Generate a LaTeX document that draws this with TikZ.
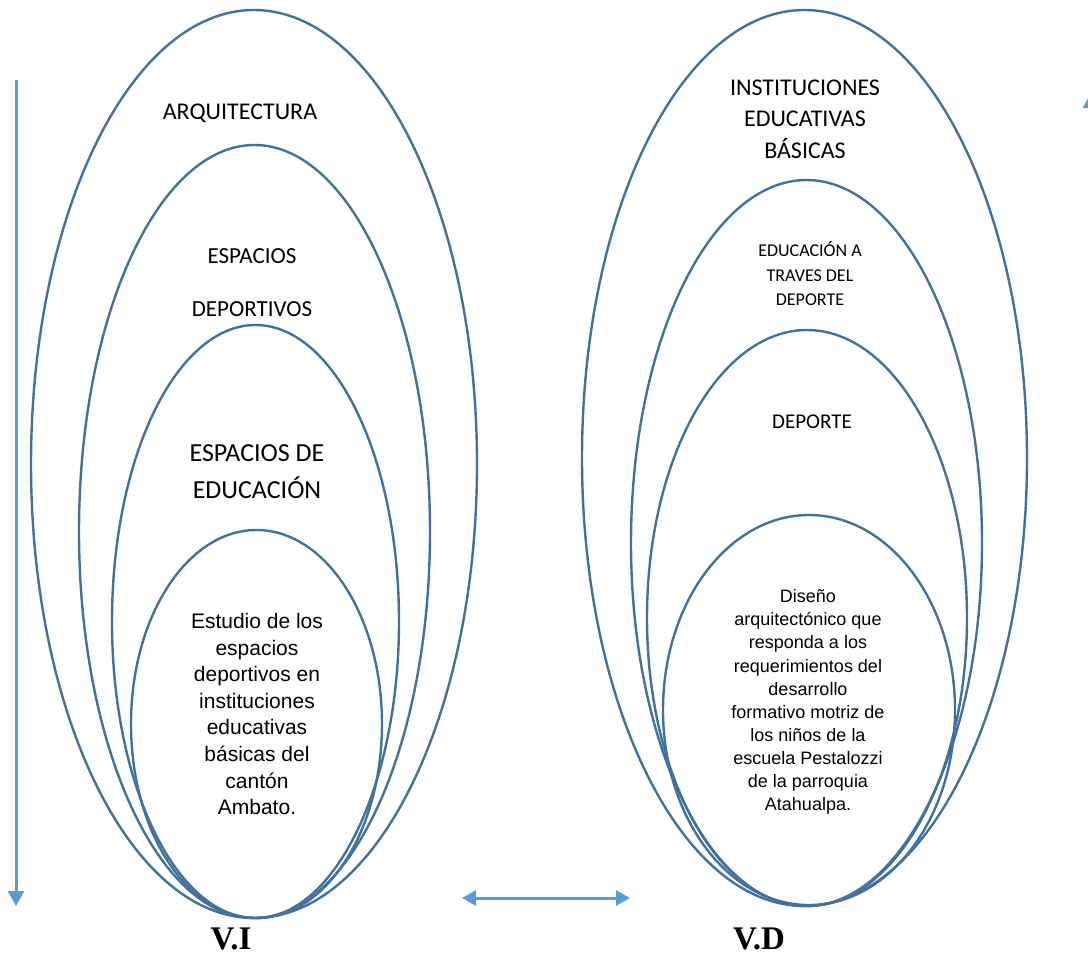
\documentclass[tikz,border=0pt]{standalone}
\usepackage{fontspec}
\usepackage{tikz}
\usetikzlibrary{arrows.meta}
\newfontfamily\calfont{Carlito}
\newfontfamily\arialfont{Liberation Sans}
\newfontfamily\serifbold{Liberation Serif}
\definecolor{ringblue}{HTML}{41719C}
\definecolor{arrowblue}{HTML}{5B9BD5}

\begin{document}
\begin{tikzpicture}[
  x=1pt,
  y=1pt,
  ring/.style={line width=2.4pt, draw=ringblue},
  flow/.style={line width=3pt, draw=arrowblue, -{Triangle[width=16pt, length=15pt]}},
  both/.style={line width=3pt, draw=arrowblue, {Triangle[width=15pt, length=14pt]}-{Triangle[width=15pt, length=14pt]}},
  caps/.style={font=\calfont\fontsize{23}{28}\selectfont, align=center, text=black},
  body/.style={font=\arialfont\fontsize{21}{26.6}\selectfont, align=center, text=black},
  tag/.style={font=\serifbold\bfseries\fontsize{33}{36}\selectfont, text=black}
]
  \useasboundingbox (0,0) rectangle (1088,-956);

  % nested rings, left and right
  \foreach \cx/\cy/\rx/\ry in {254/464/223/454, 254.5/531.5/175.5/386.5,
      255.5/621.5/143.5/296.5, 256.5/724/125.5/194,
      804.5/458/222.5/448, 806.5/543/175.5/363,
      807/618/160/288, 809/710/146/195}
    \draw[ring] (\cx,-\cy) ellipse [x radius=\rx, y radius=\ry];

  % left side labels
  \node[caps, font=\calfont\fontsize{24}{28}\selectfont] (arq) at (240,-113) {ARQUITECTURA};
  \node[caps, font=\calfont\fontsize{23}{53}\selectfont] (esp) at (252,-283)
    {ESPACIOS\\DEPORTIVOS};
  \node[caps, font=\calfont\fontsize{26}{37}\selectfont] (edu) at (257,-472)
    {ESPACIOS DE\\EDUCACIÓN};
  \node[body] (estudio) at (257,-714)
    {Estudio de los\\espacios\\deportivos en\\instituciones\\educativas\\básicas del\\cantón\\Ambato.};

  % right side labels
  \node[caps, font=\calfont\fontsize{24}{31.5}\selectfont] (inst) at (805,-119)
    {INSTITUCIONES\\EDUCATIVAS\\BÁSICAS};
  \node[caps, font=\calfont\fontsize{18}{24.5}\selectfont] (trav) at (810,-274)
    {EDUCACIÓN A\\TRAVES DEL\\DEPORTE};
  \node[caps, font=\calfont\fontsize{21}{26}\selectfont] (dep) at (812,-422) {DEPORTE};
  \node[body, font=\arialfont\fontsize{18}{23.1}\selectfont] (diseno) at (808,-702)
    {Diseño\\arquitectónico que\\responda a los\\requerimientos del\\desarrollo\\formativo motriz de\\los niños de la\\escuela Pestalozzi\\de la parroquia\\Atahualpa.};

  % variable tags
  \node[tag] (vi) at (231,-939) {V.I};
  \node[tag] (vd) at (759,-939) {V.D};

  % arrows
  \coordinate (downtop) at (16,-80);
  \coordinate (downend) at (16,-906);
  \coordinate (uptail) at (1091,-905);
  \coordinate (uphead) at (1091,-93);
  \coordinate (linkl) at (462,-898);
  \coordinate (linkr) at (630,-898);
  \draw[flow] (downtop) -- (downend);
  \draw[flow] (uptail) -- (uphead);
  \draw[both] (linkl) -- (linkr);
\end{tikzpicture}
\end{document}
